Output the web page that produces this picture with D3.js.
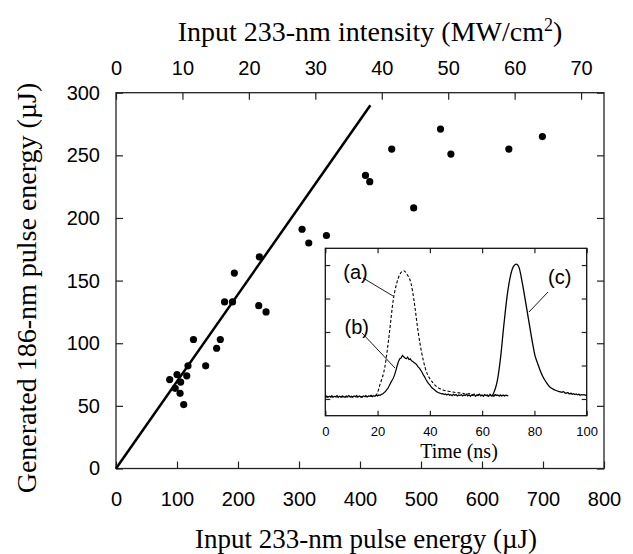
<!DOCTYPE html>
<html>
<head>
<meta charset="utf-8">
<script src="https://cdn.jsdelivr.net/npm/d3@7"></script>
<style>
  body { margin: 0; background: #fff; }
  .tick text { font-family: "Liberation Sans", Arial, sans-serif; fill: #000; }
  .serif { font-family: "Liberation Serif", "Times New Roman", serif; fill: #000; }
</style>
</head>
<body>
<div id="chart"></div>
<script>
const W = 633, H = 554;

// main plot data: input 233-nm energy (uJ) vs generated 186-nm energy (uJ)
const inputEnergy = [452, 409, 416, 488, 305, 316, 345, 235, 194, 178, 191, 234, 246, 127, 171, 165, 118, 147, 100, 116, 88, 106, 97, 105, 111, 532, 549, 644, 699];
const outputEnergy = [255, 234, 229, 208, 191, 180, 186, 169, 156, 133, 133, 130, 125, 103, 103, 96, 82, 82, 75, 74, 71, 69, 64, 60, 51, 271, 251, 255, 265];
const fitLine = [[0, 0], [417, 290]];
const xTicks = [0, 100, 200, 300, 400, 500, 600, 700, 800];
const yTicks = [0, 50, 100, 150, 200, 250, 300];
const topTicks = [0, 10, 20, 30, 40, 50, 60, 70];

// inset traces: time (ns), signal (arb.)
const traceA = [[0,0.06],[10,0.06],[18,0.08],[19.5,0.12],[21,0.45],[22.8,0.96],[24.5,1.96],[26,2.96],[27.3,3.45],[28.5,3.72],[30,3.83],[31.3,3.72],[32.8,3.45],[33.9,2.96],[35.6,1.96],[38.1,0.96],[41.3,0.47],[45,0.27],[48,0.22],[50,0.19],[52.6,0.17],[54,0.14],[55,0.16],[56,0.12],[57,0.15],[58,0.11],[59,0.14],[60,0.1],[61,0.13],[62,0.09],[63,0.12],[64,0.09],[65,0.13],[66,0.1],[67,0.12],[68,0.09],[69,0.11],[70,0.1]];
const traceB = [[0,0.06],[0.5,0.09],[1,0.05],[1.5,0.08],[2,0.06],[2.5,0.1],[3,0.05],[3.5,0.08],[4,0.07],[4.5,0.1],[5,0.05],[5.5,0.08],[6,0.06],[6.5,0.09],[7,0.07],[7.5,0.05],[8,0.09],[8.5,0.07],[9,0.1],[9.5,0.06],[10,0.08],[10.5,0.06],[11,0.09],[11.5,0.07],[12,0.1],[12.5,0.06],[13,0.09],[13.5,0.07],[14,0.05],[14.5,0.09],[15,0.07],[15.5,0.1],[16,0.06],[16.5,0.09],[17,0.08],[17.5,0.11],[18,0.07],[18.5,0.1],[19,0.08],[19.5,0.11],[20,0.09],[20.5,0.12],[21,0.11],[21.5,0.14],[22,0.15],[22.5,0.19],[23,0.22],[23.5,0.28],[24,0.32],[24.5,0.4],[25,0.48],[25.5,0.55],[26,0.62],[26.5,0.72],[27,0.85],[27.5,1.0],[28,1.12],[28.5,1.2],[29,1.22],[29.5,1.3],[30,1.26],[30.5,1.22],[31,1.2],[31.5,1.25],[32,1.18],[32.5,1.2],[33,1.14],[33.5,1.12],[34,1.08],[34.5,1.06],[35,1.02],[35.5,0.96],[36,0.92],[36.5,0.86],[37,0.8],[37.5,0.72],[38,0.66],[38.5,0.58],[39,0.52],[39.5,0.46],[40,0.42],[40.5,0.36],[41,0.32],[41.5,0.29],[42,0.26],[42.5,0.22],[43,0.2],[43.5,0.18],[44,0.17],[44.5,0.15],[45,0.16],[45.5,0.13],[46,0.15],[46.5,0.12],[47,0.15],[47.5,0.11],[48,0.13],[48.5,0.1],[49,0.14],[49.5,0.11],[50,0.13],[50.5,0.09],[51,0.12],[51.5,0.1],[52,0.13],[52.5,0.09],[53,0.12],[53.5,0.1],[54,0.14],[54.5,0.09],[55,0.12],[55.5,0.08],[56,0.12],[56.5,0.1],[57,0.13],[57.5,0.08],[58,0.12],[58.5,0.1],[59,0.14],[59.5,0.09],[60,0.12],[60.5,0.08],[61,0.13],[61.5,0.1],[62,0.12],[62.5,0.08],[63,0.14],[63.5,0.09],[64,0.12],[64.5,0.08],[65,0.13],[65.5,0.1],[66,0.12],[66.5,0.08],[67,0.11],[67.5,0.09],[68,0.12],[68.5,0.09],[69,0.11],[69.5,0.1],[70,0.1]];
const traceC = [[64,0.1],[65,0.3],[65.7,0.5],[67,1.2],[68.3,2.2],[69.6,3.1],[70.9,3.7],[72.2,3.98],[73.1,4.03],[74.1,3.93],[75.4,3.45],[76.7,2.86],[78,2.26],[79.3,1.66],[80.2,1.3],[81.2,1.07],[82.2,0.85],[83.2,0.67],[84.5,0.5],[85.7,0.37],[87,0.3],[88,0.26],[89.6,0.22],[90.5,0.2],[91,0.22],[92,0.17],[92.8,0.19],[93.4,0.15],[94,0.17],[94.5,0.14],[95,0.16],[95.5,0.13],[96,0.15],[96.5,0.12],[97,0.14],[97.5,0.11],[98,0.13],[98.5,0.12],[99,0.13],[99.5,0.11],[100,0.12]];
const insetXTicks = [0, 20, 40, 60, 80, 100];
const insetYTicks = [0, 1, 2, 3, 4];

const svg = d3.select("#chart").append("svg")
  .attr("width", W).attr("height", H);

const x = d3.scaleLinear().domain([0, 800]).range([116, 604]);
const y = d3.scaleLinear().domain([0, 300]).range([468.5, 92.7]);
const xTop = d3.scaleLinear().domain([0, 73.45]).range([116, 604]);

function styleAxis(g, size) {
  g.select(".domain").remove();
  g.selectAll(".tick line").attr("stroke", "#222").attr("stroke-width", 1.2);
  g.selectAll(".tick text").style("font-size", size + "px");
}

svg.append("g").attr("transform", "translate(0,468.5)")
  .call(d3.axisBottom(x).tickValues(xTicks).tickSize(-7).tickSizeOuter(0).tickPadding(23))
  .call(g => styleAxis(g, 20));
svg.append("g").attr("transform", "translate(0,92.7)")
  .call(d3.axisTop(xTop).tickValues(topTicks).tickSize(-7).tickSizeOuter(0).tickPadding(18))
  .call(g => styleAxis(g, 20));
svg.append("g").attr("transform", "translate(116,0)")
  .call(d3.axisLeft(y).tickValues(yTicks).tickSize(-7).tickSizeOuter(0).tickPadding(16))
  .call(g => styleAxis(g, 20));
svg.append("g").attr("transform", "translate(604,0)")
  .call(d3.axisRight(y).tickValues(yTicks).tickSize(-7).tickSizeOuter(0).tickFormat(""))
  .call(g => styleAxis(g, 20));

svg.append("rect")
  .attr("x", 116).attr("y", 92.7).attr("width", 488).attr("height", 468.5 - 92.7)
  .attr("fill", "none").attr("stroke", "#222").attr("stroke-width", 1.3);

// fit line
svg.append("path")
  .datum(fitLine)
  .attr("d", d3.line().x(d => x(d[0])).y(d => y(d[1])))
  .attr("stroke", "#000").attr("stroke-width", 2.5).attr("fill", "none");

// points
svg.append("g").selectAll("circle")
  .data(inputEnergy.map((v, i) => [v, outputEnergy[i]]))
  .join("circle")
  .attr("cx", d => x(d[0])).attr("cy", d => y(d[1]))
  .attr("r", 3.6).attr("fill", "#000");

// axis titles
svg.append("text").attr("class", "serif")
  .attr("x", 366).attr("y", 548).attr("text-anchor", "middle")
  .style("font-size", "27px")
  .text("Input 233-nm pulse energy (µJ)");

const topTitle = svg.append("text").attr("class", "serif")
  .attr("x", 370).attr("y", 41).attr("text-anchor", "middle")
  .style("font-size", "28px");
topTitle.append("tspan").text("Input 233-nm intensity (MW/cm");
topTitle.append("tspan").attr("dy", -10).style("font-size", "18px").text("2");
topTitle.append("tspan").attr("dy", 10).text(")");

svg.append("text").attr("class", "serif")
  .attr("transform", "translate(36,288) rotate(-90)")
  .attr("text-anchor", "middle")
  .style("font-size", "28px")
  .text("Generated 186-nm pulse energy (µJ)");

// inset
const xi = d3.scaleLinear().domain([0, 100]).range([325.3, 586.7]);
const yi = d3.scaleLinear().domain([-0.5, 4.5]).range([415.7, 248.3]);

svg.append("rect")
  .attr("x", 325.3).attr("y", 248.3).attr("width", 586.7 - 325.3).attr("height", 415.7 - 248.3)
  .attr("fill", "#fff");

svg.append("g").attr("transform", "translate(0,415.7)")
  .call(d3.axisBottom(xi).tickValues(insetXTicks).tickSize(-5).tickSizeOuter(0).tickPadding(11))
  .call(g => styleAxis(g, 13));
svg.append("g").attr("transform", "translate(0,248.3)")
  .call(d3.axisTop(xi).tickValues(insetXTicks).tickSize(-5).tickSizeOuter(0).tickFormat(""))
  .call(g => styleAxis(g, 13));
svg.append("g").attr("transform", "translate(325.3,0)")
  .call(d3.axisLeft(yi).tickValues(insetYTicks).tickSize(-5).tickSizeOuter(0).tickFormat(""))
  .call(g => styleAxis(g, 13));
svg.append("g").attr("transform", "translate(586.7,0)")
  .call(d3.axisRight(yi).tickValues(insetYTicks).tickSize(-5).tickSizeOuter(0).tickFormat(""))
  .call(g => styleAxis(g, 13));

svg.append("rect")
  .attr("x", 325.3).attr("y", 248.3).attr("width", 586.7 - 325.3).attr("height", 415.7 - 248.3)
  .attr("fill", "none").attr("stroke", "#111").attr("stroke-width", 1.3);

const traceLine = d3.line().x(d => xi(d[0])).y(d => yi(d[1]));
const smoothLine = d3.line().x(d => xi(d[0])).y(d => yi(d[1])).curve(d3.curveMonotoneX);

svg.append("path").datum(traceA).attr("d", smoothLine)
  .attr("fill", "none").attr("stroke", "#000").attr("stroke-width", 1.1)
  .attr("stroke-dasharray", "3,2");
svg.append("path").datum(traceB).attr("d", traceLine)
  .attr("fill", "none").attr("stroke", "#000").attr("stroke-width", 1.2);
svg.append("path").datum(traceC).attr("d", smoothLine)
  .attr("fill", "none").attr("stroke", "#000").attr("stroke-width", 1.3);

svg.append("text").attr("class", "serif")
  .attr("x", 459).attr("y", 458).attr("text-anchor", "middle")
  .style("font-size", "20px").text("Time (ns)");

// trace labels with leaders
const labels = [
  { t: "(a)", tx: 355.5, ty: 279, x1: 363, y1: 278, x2: 393, y2: 296 },
  { t: "(b)", tx: 356.7, ty: 334, x1: 362, y1: 333, x2: 395, y2: 368 },
  { t: "(c)", tx: 559.7, ty: 284, x1: 548, y1: 292, x2: 529, y2: 312 }
];
labels.forEach(l => {
  svg.append("line")
    .attr("x1", l.x1).attr("y1", l.y1).attr("x2", l.x2).attr("y2", l.y2)
    .attr("stroke", "#000").attr("stroke-width", 0.9);
  svg.append("text")
    .attr("x", l.tx).attr("y", l.ty).attr("text-anchor", "middle")
    .style("font-family", "Liberation Sans, Arial, sans-serif")
    .style("font-size", "20px").text(l.t);
});
</script>
</body>
</html>
